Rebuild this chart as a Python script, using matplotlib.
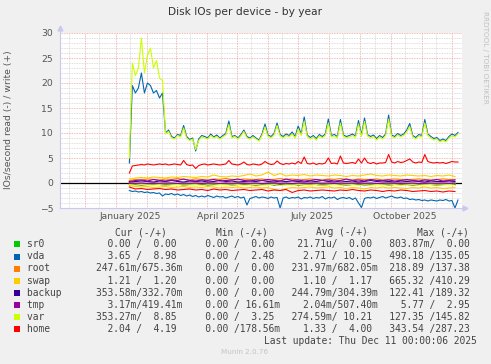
import numpy as np
import pandas as pd
import matplotlib
matplotlib.use("Agg")
import matplotlib.pyplot as plt
import matplotlib.dates as mdates
from matplotlib.ticker import MultipleLocator, FuncFormatter
from matplotlib.patches import Rectangle


W, H = 491, 364

# daily-ish samples (every 3 days) for the busy series
t_fine = pd.date_range("2025-01-14", periods=110, freq="3D")
# coarser samples (every 6 days) for the small series near zero
t_coarse = pd.date_range("2025-01-14", periods=55, freq="6D")

var_write = [5.0, 24.0, 21.5, 23.0, 29.0, 22.0, 25.5, 27.0, 23.0, 24.5, 21.0, 20.5,
             9.8, 10.3, 9.0, 8.8, 9.5, 9.2, 11.0, 9.0, 8.5, 8.8, 6.7, 8.5,
             9.2, 9.0, 8.8, 9.5, 9.0, 9.3, 8.8, 9.2, 9.6, 11.7, 9.0, 9.3,
             8.8, 9.4, 10.3, 9.0, 8.8, 9.2, 8.8, 8.4, 9.5, 11.2, 9.3, 9.0,
             9.6, 11.5, 9.4, 9.0, 9.5, 9.2, 9.8, 9.0, 10.8, 9.5, 12.4, 9.3,
             8.8, 9.2, 8.6, 9.4, 9.0, 9.5, 12.0, 9.2, 9.4, 9.0, 12.0, 9.3,
             9.0, 9.2, 9.5, 9.1, 11.8, 9.3, 12.3, 9.4, 9.0, 9.3, 8.6, 9.2,
             8.8, 9.5, 12.8, 9.3, 9.0, 9.6, 9.2, 9.5, 10.2, 11.3, 9.2, 8.8,
             9.4, 9.2, 12.0, 9.5, 9.0, 8.6, 8.8, 8.2, 8.5, 8.2, 9.0, 9.5, 9.2, 9.8]

vda_write = [4.0, 19.5, 18.0, 19.0, 22.0, 18.0, 20.0, 19.5, 18.0, 18.5, 17.0, 18.0,
             10.0, 10.6, 9.3, 9.0, 9.7, 9.5, 11.5, 9.3, 8.7, 9.0, 6.4, 8.8,
             9.5, 9.3, 9.0, 9.8, 9.2, 9.6, 9.0, 9.5, 9.9, 12.4, 9.3, 9.5,
             9.0, 9.7, 10.6, 9.3, 9.0, 9.5, 9.0, 8.6, 9.8, 11.8, 9.6, 9.3,
             9.9, 12.0, 9.7, 9.3, 9.8, 9.5, 10.2, 9.3, 11.4, 9.8, 13.2, 9.6,
             9.1, 9.5, 8.9, 9.7, 9.3, 9.8, 12.8, 9.5, 9.7, 9.3, 12.7, 9.6,
             9.3, 9.5, 9.8, 9.4, 12.5, 9.6, 13.0, 9.7, 9.3, 9.6, 8.9, 9.5,
             9.1, 9.8, 13.6, 9.6, 9.3, 9.9, 9.5, 9.8, 10.6, 11.9, 9.5, 9.1,
             9.7, 9.5, 12.7, 9.8, 9.3, 8.9, 9.1, 8.5, 8.8, 8.5, 9.3, 9.8, 9.5, 10.1]

vda_read = [-1.5, -1.7, -1.6, -1.8, -1.7, -1.9, -1.8, -2.0, -1.9, -2.1, -2.0, -2.6,
            -2.2, -2.3, -2.1, -2.4, -2.2, -2.5, -2.3, -2.6, -2.4, -2.7, -2.5, -2.8,
            -2.6, -2.8, -2.5, -2.7, -2.9, -2.6, -2.8, -2.7, -3.0, -2.8, -2.6, -2.9,
            -2.7, -3.0, -2.8, -4.4, -3.1, -2.9, -2.7, -3.0, -2.8, -2.9, -3.1, -2.8,
            -3.0, -2.9, -5.0, -3.0, -2.8, -3.1, -2.9, -3.0, -2.8, -3.2, -2.9, -3.0,
            -2.8, -3.1, -2.9, -3.0, -2.7, -3.2, -2.9, -3.0, -2.8, -3.3, -3.0, -2.9,
            -3.1, -2.9, -3.3, -3.0, -4.0, -4.9, -3.1, -2.9, -3.0, -2.8, -3.1, -2.9,
            -2.7, -3.0, -2.8, -2.6, -2.9, -3.0, -2.8, -3.1, -3.0, -3.3, -3.2, -3.4,
            -3.3, -3.5, -3.4, -3.6, -3.4, -3.5, -3.6, -3.4, -3.5, -3.3, -3.6, -3.5, -5.0, -3.4]

home_write = [2.0, 3.4, 3.5, 3.6, 3.7, 3.6, 3.8, 3.7, 3.6, 3.7, 3.8, 3.7,
              3.8, 3.6, 3.7, 3.8, 3.7, 3.6, 4.5, 3.7, 3.5, 3.6, 2.9, 3.5,
              3.7, 3.8, 3.6, 3.7, 3.8, 3.7, 3.6, 3.7, 3.8, 4.5, 3.8, 3.7,
              3.6, 3.8, 4.2, 3.7, 3.6, 3.8, 3.7, 3.6, 3.8, 4.3, 3.9, 3.7,
              3.8, 4.4, 3.9, 3.7, 3.9, 3.8, 4.0, 3.8, 4.3, 3.9, 5.2, 3.9,
              3.8, 4.0, 3.7, 3.9, 3.8, 4.0, 5.0, 3.9, 4.0, 3.8, 5.4, 4.0,
              3.9, 4.0, 4.1, 3.9, 4.8, 4.0, 5.0, 4.1, 3.9, 4.1, 3.8, 4.0,
              4.0, 4.1, 5.7, 4.2, 4.0, 4.3, 4.1, 4.2, 4.5, 4.8, 4.2, 4.0,
              4.2, 4.1, 5.7, 4.3, 4.1, 4.0, 4.1, 4.0, 4.1, 3.9, 4.1, 4.3, 4.2, 4.2]

home_read = [-0.8, -1.2, -1.1, -1.3, -1.2, -1.1, -1.3, -1.2, -1.4, -1.3, -1.2,
             -1.4, -1.3, -1.5, -1.2, -1.4, -1.3, -1.5, -1.4, -1.3, -1.5, -1.4,
             -1.3, -1.6, -1.4, -1.5, -1.3, -1.9, -1.5, -1.4, -1.6, -1.5, -1.4,
             -1.5, -1.6, -1.4, -1.5, -1.3, -1.5, -1.6, -1.4, -1.5, -1.7, -1.5,
             -1.6, -1.4, -1.5, -1.7, -1.6, -1.5, -1.7, -1.6, -1.8, -1.6, -1.7]

swap_write = [0.8, 1.0, 1.1, 1.0, 1.2, 1.1, 1.0, 1.2, 1.1, 1.3, 1.2,
              1.1, 1.3, 1.2, 1.6, 1.3, 1.2, 1.4, 1.3, 1.5, 1.8, 1.4,
              1.6, 2.2, 1.5, 1.9, 1.4, 1.6, 1.5, 1.7, 1.4, 1.6, 1.5,
              1.4, 1.6, 1.5, 1.3, 1.5, 1.4, 1.6, 1.8, 1.5, 1.4, 1.6,
              1.5, 1.4, 1.6, 1.5, 1.4, 1.5, 1.3, 1.5, 1.4, 1.6, 1.3]

swap_read = [-0.5, -0.7, -0.8, -0.7, -0.9, -0.8, -0.7, -0.9, -0.8, -0.7, -0.9,
             -0.8, -0.9, -0.7, -0.8, -1.0, -0.8, -0.9, -0.8, -1.0, -0.9, -0.8,
             -1.0, -0.9, -1.3, -1.5, -1.1, -0.9, -1.0, -0.9, -0.8, -1.0, -0.9,
             -0.8, -1.0, -0.9, -1.1, -0.9, -1.0, -1.2, -0.9, -1.0, -0.8, -1.0,
             -0.9, -1.0, -1.1, -0.9, -1.0, -0.8, -1.0, -0.9, -1.1, -1.0, -0.9]

root_write = [0.5, 0.7, 0.6, 0.8, 0.7, 0.6, 0.8, 0.7, 0.9, 0.7, 0.6,
              0.8, 0.7, 0.6, 0.8, 0.7, 0.9, 0.7, 0.6, 0.8, 0.7, 0.7,
              0.8, 0.6, 0.7, 0.9, 0.7, 0.8, 0.6, 0.7, 0.8, 0.7, 0.6,
              0.8, 0.7, 0.9, 0.7, 0.6, 0.8, 0.7, 0.7, 0.8, 0.6, 0.7,
              0.8, 0.7, 0.6, 0.7, 0.8, 0.7, 0.6, 0.7, 0.8, 0.7, 0.7]

root_read = [-0.2, -0.3, -0.2, -0.25, -0.3, -0.2, -0.25, -0.3, -0.2, -0.3, -0.25,
             -0.2, -0.3, -0.25, -0.2, -0.3, -0.2, -0.25, -0.3, -0.2, -0.25, -0.3,
             -0.2, -0.3, -0.25, -0.2, -0.3, -0.2, -0.25, -0.3, -0.2, -0.25, -0.3,
             -0.2, -0.3, -0.25, -0.2, -0.3, -0.2, -0.25, -0.3, -0.2, -0.25, -0.3,
             -0.2, -0.3, -0.25, -0.2, -0.3, -0.2, -0.25, -0.3, -0.2, -0.25, -0.3]

backup_write = [0.2, 0.3, 0.4, 0.3, 0.2, 0.4, 0.3, 0.5, 0.3, 0.2, 0.4,
                0.3, 0.4, 0.2, 0.3, 0.5, 0.3, 0.4, 0.2, 0.3, 0.4, 0.3,
                0.5, 0.3, 0.2, 0.4, 0.3, 0.4, 0.3, 0.2, 0.4, 0.3, 0.5,
                0.3, 0.2, 0.4, 0.3, 0.4, 0.2, 0.3, 0.5, 0.3, 0.4, 0.3,
                0.2, 0.4, 0.3, 0.4, 0.3, 0.2, 0.4, 0.3, 0.3, 0.4, 0.3]

backup_read = [-0.2, -0.3, -0.4, -0.3, -0.2, -0.3, -0.4, -0.3, -0.2, -0.4, -0.3,
               -0.3, -0.2, -0.4, -0.3, -0.3, -0.2, -0.4, -0.3, -0.2, -0.3, -0.4,
               -0.3, -0.2, -0.4, -0.3, -0.3, -0.2, -0.4, -0.3, -0.2, -0.3, -0.4,
               -0.3, -0.2, -0.3, -0.4, -0.3, -0.2, -0.4, -0.3, -0.3, -0.2, -0.4,
               -0.3, -0.2, -0.3, -0.4, -0.3, -0.2, -0.3, -0.4, -0.3, -0.2, -0.3]

tmp_write = [0.3, 0.5, 0.6, 0.4, 0.7, 0.5, 0.4, 0.6, 0.5, 0.8, 0.5,
             0.4, 0.6, 0.5, 0.7, 0.4, 0.5, 0.6, 0.8, 0.5, 0.4, 0.6,
             0.5, 0.7, 0.5, 0.4, 0.8, 0.5, 0.6, 0.4, 0.5, 0.7, 0.5,
             0.6, 0.4, 0.5, 0.8, 0.5, 0.6, 0.4, 0.7, 0.5, 0.5, 0.6,
             0.4, 0.5, 0.7, 0.5, 0.4, 0.6, 0.5, 0.7, 0.4, 0.5, 0.6]

tmp_read = [0.0, -0.05, 0.0, -0.1, 0.0, -0.05, 0.0, 0.0, -0.1, 0.0, -0.05,
            0.0, -0.05, 0.0, 0.0, -0.1, 0.0, -0.05, 0.0, 0.0, -0.05, 0.0,
            -0.1, 0.0, 0.0, -0.05, 0.0, -0.1, 0.0, -0.05, 0.0, 0.0, -0.05,
            0.0, -0.1, 0.0, -0.05, 0.0, 0.0, -0.05, 0.0, -0.1, 0.0, 0.0,
            -0.05, 0.0, -0.05, 0.0, -0.1, 0.0, 0.0, -0.05, 0.0, -0.05, 0.0]

var_read = [-0.3, -0.4, -0.3, -0.35, -0.4, -0.3, -0.45, -0.35, -0.3, -0.4, -0.35,
            -0.3, -0.45, -0.35, -0.4, -0.3, -0.35, -0.4, -0.3, -0.45, -0.35, -0.3,
            -0.4, -0.35, -0.3, -0.45, -0.35, -0.4, -0.3, -0.35, -0.4, -0.3, -0.45,
            -0.35, -0.3, -0.4, -0.35, -0.3, -0.45, -0.35, -0.4, -0.3, -0.35, -0.4,
            -0.3, -0.45, -0.35, -0.3, -0.4, -0.35, -0.3, -0.4, -0.35, -0.3, -0.4]

sr0_read = [0.0] * 55
sr0_write = [0.0] * 55

# legend table (text as printed by munin)
names = ["sr0", "vda", "root", "swap", "backup", "tmp", "var", "home"]
colors = ["#00CC00", "#0066B3", "#FF8000", "#FFCC00", "#330099", "#990099", "#CCFF00", "#FF0000"]
cur_txt = ["  0.00 /  0.00 ", "  3.65 /  8.98 ", "247.61m/675.36m", "  1.21 /  1.20 ",
           "353.58m/332.70m", "  3.17m/419.41m", "353.27m/  8.85 ", "  2.04 /  4.19 "]
min_txt = ["  0.00 /  0.00 ", "  0.00 /  2.48 ", "  0.00 /  0.00 ", "  0.00 /  0.00 ",
           "  0.00 /  0.00 ", "  0.00 / 16.61m", "  0.00 /  3.25 ", "  0.00 /178.56m"]
avg_txt = [" 21.71u/  0.00 ", "  2.71 / 10.15 ", "231.97m/682.05m", "  1.10 /  1.17 ",
           "244.79m/304.39m", "  2.04m/507.40m", "274.59m/ 10.21 ", "  1.33 /  4.00 "]
max_txt = ["803.87m/  0.00 ", "498.18 /135.05 ", "218.89 /137.38 ", "665.32 /410.29 ",
           "122.41 /189.32 ", "  5.77 /  2.95 ", "127.35 /145.82 ", "343.54 /287.23 "]

x_label_months = {1: "January 2025", 4: "April 2025", 7: "July 2025", 10: "October 2025"}


fig = plt.figure(figsize=(W / 100, H / 100), dpi=100, facecolor="#F0F0F0")
ax = fig.add_axes([60 / W, (H - 208) / H, 402 / W, 175 / H])
ax.set_facecolor("white")

ax.set_xlim(pd.Timestamp("2024-11-06"), pd.Timestamp("2025-12-11"))
ax.set_ylim(-5, 30)

ax.yaxis.set_major_locator(MultipleLocator(5))
ax.yaxis.set_minor_locator(MultipleLocator(1))
ax.xaxis.set_major_locator(mdates.MonthLocator())
ax.xaxis.set_minor_locator(mdates.MonthLocator(bymonthday=15))
ax.xaxis.set_major_formatter(FuncFormatter(lambda v, p: ""))
ax.xaxis.set_minor_formatter(FuncFormatter(
    lambda v, p: x_label_months.get(mdates.num2date(v).month, "")))

ax.grid(which="minor", color="#D4D4D4", linestyle=(0, (1, 1)), linewidth=0.6)
ax.grid(which="major", color="#F2A0A0", linestyle=(0, (1, 1)), linewidth=0.6)
ax.set_axisbelow(True)

ax.tick_params(which="both", length=0)
ax.tick_params(axis="y", labelsize=6.7, labelcolor="#555555", pad=5)
ax.tick_params(axis="x", which="minor", labelsize=6.7, labelcolor="#555555", pad=3)
for s in ax.spines.values():
    s.set_visible(False)

ax.axhline(0, color="black", linewidth=0.9, zorder=1)

lw = 0.8
series = [
    (sr0_read, sr0_write, t_coarse, t_coarse),
    (vda_read, vda_write, t_fine, t_fine),
    (root_read, root_write, t_coarse, t_coarse),
    (swap_read, swap_write, t_coarse, t_coarse),
    (backup_read, backup_write, t_coarse, t_coarse),
    (tmp_read, tmp_write, t_coarse, t_coarse),
    (var_read, var_write, t_coarse, t_fine),
    (home_read, home_write, t_coarse, t_fine),
]
for (rd, wr, tr, tw), c in zip(series, colors):
    ax.plot(tr, rd, color=c, linewidth=lw, zorder=2)
    ax.plot(tw, wr, color=c, linewidth=lw, zorder=2)

# axis lines with arrows
axis_col = "#C8C8F0"
ax.plot([0, 0], [0, 1.03], transform=ax.transAxes, color=axis_col, lw=0.8, clip_on=False)
ax.plot([0, 1.008], [0, 0], transform=ax.transAxes, color=axis_col, lw=0.8, clip_on=False)
ax.plot([0], [1.03], transform=ax.transAxes, marker="^", ms=3.5, color=axis_col, clip_on=False)
ax.plot([1.008], [0], transform=ax.transAxes, marker=">", ms=3.5, color=axis_col, clip_on=False)

fig.text(245 / W, 1 - 12 / H, "Disk IOs per device - by year", ha="center", va="center",
         fontsize=7.7, color="#333333")
fig.text(9 / W, 1 - 120 / H, "IOs/second read (-) / write (+)", rotation=90,
         ha="center", va="center", fontsize=6.7, color="#555555")
fig.text(485 / W, 1 - 57 / H, "RRDTOOL / TOBI OETIKER", rotation=270,
         ha="center", va="center", fontsize=5.2, color="#C0C0C0")

mono = dict(family="DejaVu Sans Mono", fontsize=6.9, color="#444444", va="center")
for hx, htxt in [(115, "Cur (-/+)"), (216, "Min (-/+)"), (316, "Avg (-/+)"), (416.7, "Max (-/+)")]:
    fig.text(hx / W, 1 - 232.3 / H, htxt, ha="left", **mono)

row_y = [244.3, 256.5, 268.5, 280.6, 292.6, 304.6, 316.6, 328.6]
for i in range(len(names)):
    yy = 1 - row_y[i] / H
    fig.add_artist(Rectangle((14 / W, yy - 3 / H), 6 / W, 6 / H, transform=fig.transFigure,
                             facecolor=colors[i], edgecolor="none"))
    line = f"{names[i]:<12}{cur_txt[i]}  {min_txt[i]}  {avg_txt[i]}  {max_txt[i]}"
    fig.text(26.7 / W, yy, line, ha="left", **mono)

fig.text(476.5 / W, 1 - 341 / H, "Last update: Thu Dec 11 00:00:06 2025", ha="right", **mono)
fig.text(245 / W, 1 - 352.5 / H, "Munin 2.0.76", ha="center", va="center",
         fontsize=5.2, color="#C4C4C4")

fig.savefig("out.png", dpi=100, facecolor=fig.get_facecolor())
